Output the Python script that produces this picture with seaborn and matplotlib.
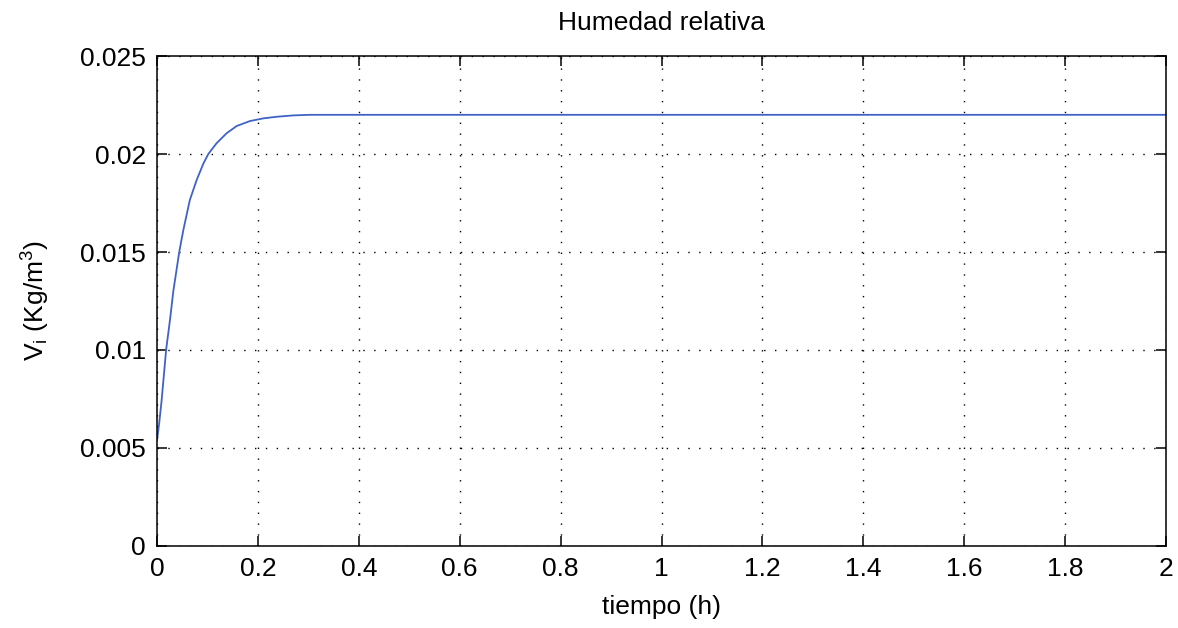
import matplotlib
matplotlib.use("Agg")
import matplotlib.pyplot as plt
import seaborn as sns
import pandas as pd

# Relative humidity response over time (hours, kg/m^3)
tiempo = [0.0, 0.004, 0.009, 0.0135, 0.018, 0.026, 0.0323, 0.044, 0.052,
          0.065, 0.0785, 0.092, 0.1017, 0.118, 0.138, 0.158, 0.184, 0.211,
          0.237, 0.27, 0.303, 0.40, 0.60, 1.0, 1.5, 2.0]
humedad = [0.0054, 0.0062, 0.0074, 0.0087, 0.0100, 0.0116, 0.0130, 0.0150,
           0.0161, 0.01765, 0.01867, 0.01952, 0.0200, 0.02055, 0.02106,
           0.02143, 0.02168, 0.02182, 0.0219, 0.02197, 0.0220, 0.0220,
           0.0220, 0.0220, 0.0220, 0.0220]

x_ticks = [0, 0.2, 0.4, 0.6, 0.8, 1.0, 1.2, 1.4, 1.6, 1.8, 2.0]
x_tick_labels = ["0", "0.2", "0.4", "0.6", "0.8", "1", "1.2", "1.4", "1.6", "1.8", "2"]
y_ticks = [0, 0.005, 0.01, 0.015, 0.02, 0.025]
y_tick_labels = ["0", "0.005", "0.01", "0.015", "0.02", "0.025"]

df = pd.DataFrame({"tiempo": tiempo, "humedad": humedad})

sns.set_style("white")
plt.rcParams["font.family"] = ["Liberation Sans", "DejaVu Sans"]
plt.rcParams["mathtext.fontset"] = "custom"
plt.rcParams["mathtext.rm"] = "Liberation Sans"
plt.rcParams["mathtext.it"] = "Liberation Sans"
plt.rcParams["text.color"] = "black"
plt.rcParams["axes.labelcolor"] = "black"

fig = plt.figure(figsize=(11.78, 6.28), dpi=100)
ax = fig.add_axes([0.1333, 0.1306, 0.8565, 0.7802])

sns.lineplot(data=df, x="tiempo", y="humedad", ax=ax, color="#3f62c6",
             linewidth=1.3, estimator=None)

ax.set_xlim(0, 2)
ax.set_ylim(0, 0.025)
ax.set_xticks(x_ticks)
ax.set_xticklabels(x_tick_labels)
ax.set_yticks(y_ticks)
ax.set_yticklabels(y_tick_labels)

ax.grid(True, color="black", linestyle=(0, (1, 6.8)), linewidth=1.0)
ax.set_axisbelow(True)

for s in ax.spines.values():
    s.set_visible(True)
    s.set_color("black")
    s.set_linewidth(1.1)

ax.tick_params(axis="both", which="major", direction="in", length=7, width=1.1,
               labelsize=19, top=True, right=True, bottom=True, left=True,
               colors="black", pad=8)

ax.set_title("Humedad relativa", fontsize=19, pad=19, color="black")
ax.set_xlabel("tiempo (h)", fontsize=19, labelpad=10)
ax.set_ylabel(r"V$_\mathregular{i}$ (Kg/m$^\mathregular{3}$)", fontsize=19, labelpad=20)

fig.savefig("out.png", dpi=100, facecolor="white")
